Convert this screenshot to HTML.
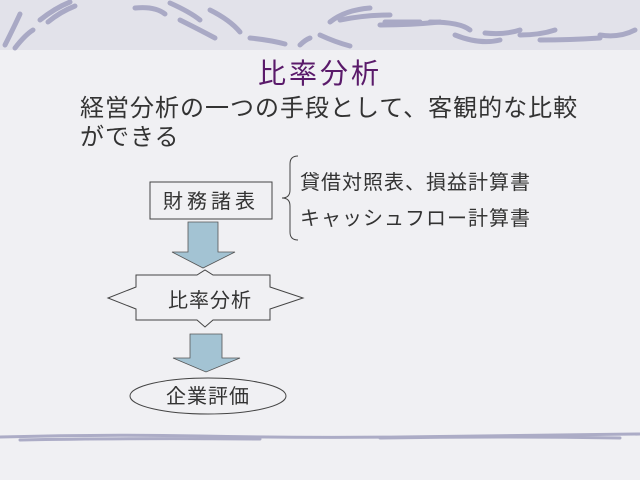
<!DOCTYPE html>
<html><head><meta charset="utf-8"><style>
body{margin:0;width:640px;height:480px;overflow:hidden;background:#f1f1f3;font-family:"Liberation Sans","Noto Sans CJK JP",sans-serif}
text{font-family:"Liberation Sans","Noto Sans CJK JP",sans-serif}
</style></head><body>
<svg width="640" height="480" xmlns="http://www.w3.org/2000/svg" style="position:absolute;left:0;top:0">
<rect width="640" height="480" fill="#f0f0f3"/>
<rect width="640" height="50" fill="#e2e2ea"/>
<g stroke="#9c9cbc" stroke-linecap="round" fill="none" stroke-width="5" opacity="0.8">
<path d="M5 45 Q15 25 20 14"/><path d="M15 48 Q25 35 33 30"/><path d="M40 20 Q55 8 70 2"/><path d="M48 22 Q60 12 75 6"/>
<path d="M135 8 Q155 6 165 14"/><path d="M170 3 Q190 12 200 20"/><path d="M180 20 Q200 30 215 38"/><path d="M210 10 Q230 20 240 32"/>
<path d="M250 38 Q270 40 285 44"/><path d="M320 35 Q335 42 350 46"/><path d="M300 45 Q305 40 310 38"/>
<path d="M330 22 Q345 10 370 8"/><path d="M340 20 Q365 15 390 15"/><path d="M385 22 Q400 22 420 22"/>
<path d="M380 25 Q410 25 440 22"/><path d="M430 22 Q460 22 470 30"/><path d="M455 35 Q480 45 500 40"/><path d="M485 33 Q505 35 520 30"/><path d="M520 35 Q540 35 555 30"/><path d="M540 40 Q570 40 600 38"/><path d="M600 35 Q620 38 635 30"/>
</g>
<g stroke="#9c9cbc" stroke-linecap="round" fill="none" stroke-width="3" opacity="0.8">
<path d="M0 437 Q100 434 200 436 T400 437 T640 434"/><path d="M20 440 Q120 438 260 439"/><path d="M380 438 Q500 436 620 438"/>
</g>
<text x="258" y="83" font-size="28" letter-spacing="3" fill="#5a1a6a">比率分析</text>
<text x="80" y="116" font-size="24" letter-spacing="1" fill="#333">経営分析の一つの手段として、客観的な比較</text>
<text x="80" y="145" font-size="24" letter-spacing="1" fill="#333">ができる</text>
<rect x="150" y="182" width="122" height="37" fill="none" stroke="#444" stroke-width="1"/>
<text x="163" y="208" font-size="20" letter-spacing="4" fill="#333">財務諸表</text>
<path d="M298 156 Q290 156 290 164 L290 190 Q290 198 282 198 Q290 198 290 206 L290 232 Q290 240 298 240" fill="none" stroke="#444"/>
<text x="300" y="189" font-size="20" letter-spacing="1" fill="#333">貸借対照表、損益計算書</text>
<text x="300" y="225" font-size="20" letter-spacing="1" fill="#333">キャッシュフロー計算書</text>
<path d="M188 222 H218 V252 H235 L203 268 L172 252 H188 Z" fill="#a3c3d3" stroke="#555" stroke-width="0.8"/>
<path d="M136 275 H197 L205 270 L213 275 H270 V287 L303 298 L270 309 V320 H213 L205 327 L197 320 H136 V309 L108 298 L136 287 Z" fill="none" stroke="#444"/>
<text x="168" y="307" font-size="20" letter-spacing="1" fill="#333">比率分析</text>
<path d="M190 334 H222 V358 H240 L206 372 L173 358 H190 Z" fill="#a3c3d3" stroke="#555" stroke-width="0.8"/>
<ellipse cx="208" cy="396" rx="78" ry="18" fill="none" stroke="#444"/>
<text x="166" y="403" font-size="20" letter-spacing="1" fill="#333">企業評価</text>
</svg>
</body></html>
